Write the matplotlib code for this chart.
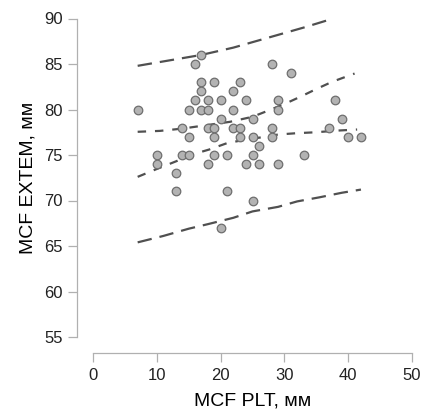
import matplotlib
matplotlib.use('Agg')
import matplotlib.pyplot as plt
import numpy as np

# MCF PLT vs MCF EXTEM (mm)
mcf_plt = [17, 16, 28, 31,
           17, 19, 23,
           17, 22,
           16, 18, 20, 24, 29, 38,
           7, 15, 17, 18, 22, 29,
           20, 25, 39,
           14, 18, 19, 22, 23, 28, 37,
           15, 19, 23, 25, 28, 40, 42,
           26,
           10, 14, 15, 19, 21, 25, 33,
           10, 18, 24, 26, 29,
           13,
           13, 21,
           25,
           20]
mcf_extem = [86, 85, 85, 84,
             83, 83, 83,
             82, 82,
             81, 81, 81, 81, 81, 81,
             80, 80, 80, 80, 80, 80,
             79, 79, 79,
             78, 78, 78, 78, 78, 78, 78,
             77, 77, 77, 77, 77, 77, 77,
             76,
             75, 75, 75, 75, 75, 75, 75,
             74, 74, 74, 74, 74,
             73,
             71, 71,
             70,
             67]

# confidence band of the regression line (short dashes)
ci_upper_x = [7, 10.5, 14, 16, 21.5, 25, 27, 30, 32.5, 35, 37.5, 41]
ci_upper_y = [77.55, 77.65, 77.9, 78.1, 78.65, 79.2, 79.75, 80.6, 81.4, 82.25, 83.05, 83.95]
ci_lower_x = [7, 10.3, 13, 15.3, 18.2, 21, 24, 27, 29, 32, 35, 38, 41.4]
ci_lower_y = [72.6, 73.55, 74.3, 75.0, 75.6, 76.3, 76.7, 77.0, 77.25, 77.4, 77.5, 77.67, 77.8]

# prediction band (long dashes)
pi_upper_x = [7, 12, 17, 22, 26, 30, 33, 37.2]
pi_upper_y = [84.8, 85.4, 86.0, 86.8, 87.6, 88.4, 89.0, 89.9]
pi_lower_x = [7, 11, 15, 18, 22, 25, 29, 32, 35.5, 39, 42]
pi_lower_y = [65.4, 66.1, 66.9, 67.4, 68.1, 68.8, 69.3, 69.9, 70.35, 70.85, 71.2]

plt.rcParams['font.family'] = ['Liberation Sans', 'DejaVu Sans']

fig = plt.figure(figsize=(4.24, 4.20), dpi=100)
ax = fig.add_axes([93 / 424, 83 / 420, 319 / 424, 318.5 / 420])

line_color = '#505050'
long_dash = (0, (6.5, 3.6))
short_dash = (0, (3.8, 4.0))
ax.plot(pi_upper_x, pi_upper_y, color=line_color, lw=1.6, linestyle=long_dash,
        dash_capstyle='butt', zorder=2)
ax.plot(pi_lower_x, pi_lower_y, color=line_color, lw=1.6, linestyle=long_dash,
        dash_capstyle='butt', zorder=2)
ax.plot(ci_upper_x, ci_upper_y, color=line_color, lw=1.6, linestyle=short_dash,
        dash_capstyle='butt', zorder=2)
ax.plot(ci_lower_x, ci_lower_y, color=line_color, lw=1.6, linestyle=short_dash,
        dash_capstyle='butt', zorder=2)

ax.scatter(mcf_plt, mcf_extem, s=38, color='#b3b3b3', edgecolor='#6e6e6e',
           linewidth=0.9, zorder=3)

ax.set_xlim(0, 50)
ax.set_ylim(55, 90)
ax.set_xticks([0, 10, 20, 30, 40, 50])
ax.set_yticks([55, 60, 65, 70, 75, 80, 85, 90])

for side in ['top', 'right']:
    ax.spines[side].set_visible(False)
ax.spines['left'].set_position(('outward', 11.5))
ax.spines['bottom'].set_position(('outward', 11.5))
ax.spines['left'].set_bounds(55, 90)
ax.spines['bottom'].set_bounds(0, 50)
for side in ['left', 'bottom']:
    ax.spines[side].set_color('#b0b0b0')
    ax.spines[side].set_linewidth(0.9)

ax.tick_params(axis='both', length=6.5, width=0.9, color='#b0b0b0',
               labelsize=12, labelcolor='#222222', pad=4)

ax.set_xlabel('MCF PLT, мм', fontsize=14, labelpad=7)
ax.set_ylabel('MCF EXTEM, мм', fontsize=14, labelpad=5)

fig.savefig('out.png', dpi=100)
